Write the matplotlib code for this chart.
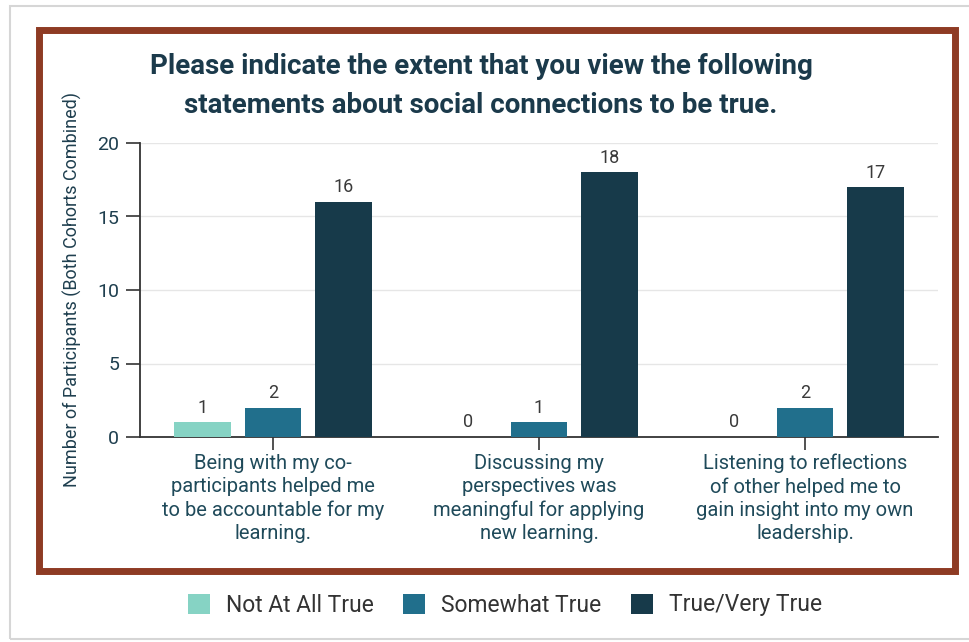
import matplotlib
matplotlib.use("Agg")
import matplotlib.pyplot as plt
from matplotlib.patches import Rectangle
import numpy as np

categories = [
    "Being with my co-\nparticipants helped me\nto be accountable for my\nlearning.",
    "Discussing my\nperspectives was\nmeaningful for applying\nnew learning.",
    "Listening to reflections\nof other helped me to\ngain insight into my own\nleadership.",
]
series_names = ["Not At All True", "Somewhat True", "True/Very True"]
not_at_all = [1, 0, 0]
somewhat = [2, 1, 2]
true_very = [16, 18, 17]
colors = ["#86D3C4", "#216F8C", "#173A4A"]
yticks = [0, 5, 10, 15, 20]
title = "Please indicate the extent that you view the following\nstatements about social connections to be true."
ylabel = "Number of Participants (Both Cohorts Combined)"

W, H = 969, 642
fig = plt.figure(figsize=(W / 100, H / 100), dpi=100)
fig.patch.set_facecolor("white")

def fx(px):
    return px / W

def fy(py):
    return 1 - py / H

# page edge
fig.patches.append(Rectangle((fx(10), fy(639)), fx(975) - fx(10), fy(6) - fy(639),
                             transform=fig.transFigure, fill=False,
                             edgecolor="#d6d6d6", linewidth=1.5, zorder=0))
# brown frame
fig.patches.append(Rectangle((fx(38.5), fy(570.5)), fx(954.5) - fx(38.5), fy(29.5) - fy(570.5),
                             transform=fig.transFigure, fill=False,
                             edgecolor="#8E3B24", linewidth=5.0, zorder=1))

ax = fig.add_axes([fx(140), fy(437), fx(938) - fx(140), fy(143) - fy(437)])
ax.set_facecolor("white")

x = np.arange(len(categories))
offsets = [-0.265, 0.0, 0.265]
width = 0.214
all_series = [not_at_all, somewhat, true_very]
for vals, off, col, name in zip(all_series, offsets, colors, series_names):
    ax.bar(x + off, vals, width=width, color=col, label=name, zorder=3)
    for xi, v in zip(x + off, vals):
        ax.annotate(str(v), (xi, v), xytext=(0, 4), textcoords="offset points",
                    ha="center", va="bottom", fontsize=13, color="#3a3a3a",
                    family="Roboto")

ax.set_xlim(-0.5, 2.5)
ax.set_ylim(0, 20)
ax.set_yticks(yticks)
ax.set_yticklabels([str(t) for t in yticks], fontsize=14, color="#1F3F4F", family="Roboto")
ax.set_xticks(x)
ax.set_xticklabels(categories, fontsize=14.5, color="#1F4A5A", family="Roboto",
                   linespacing=1.28)
ax.tick_params(axis="y", length=10, width=1.2, color="#333333", pad=5)
ax.tick_params(axis="x", length=9, width=1.2, color="#333333", pad=3)
ax.grid(axis="y", color="#e6e6e6", linewidth=1, zorder=0)
ax.set_axisbelow(True)
for s in ["top", "right"]:
    ax.spines[s].set_visible(False)
for s in ["left", "bottom"]:
    ax.spines[s].set_color("#333333")
    ax.spines[s].set_linewidth(1.3)

fig.text(fx(72), fy(290), ylabel, rotation=90, ha="center", va="center",
         fontsize=13, color="#1F3F4F", family="Roboto")

fig.text(fx(481), fy(86), title, ha="center", va="center", fontsize=20,
         fontweight="bold", color="#1B3A4B", linespacing=1.55,
         family="Roboto")

handles, labels = ax.get_legend_handles_labels()
leg = fig.legend(handles, labels, loc="center", bbox_to_anchor=(fx(505), fy(605)),
                 ncol=3, frameon=False, handlelength=0.95, handleheight=0.95,
                 handletextpad=0.7, columnspacing=1.3,
                 prop={"family": "Roboto", "size": 16.5})
for t in leg.get_texts():
    t.set_color("#333333")

fig.savefig("out.png", dpi=100, facecolor="white")
